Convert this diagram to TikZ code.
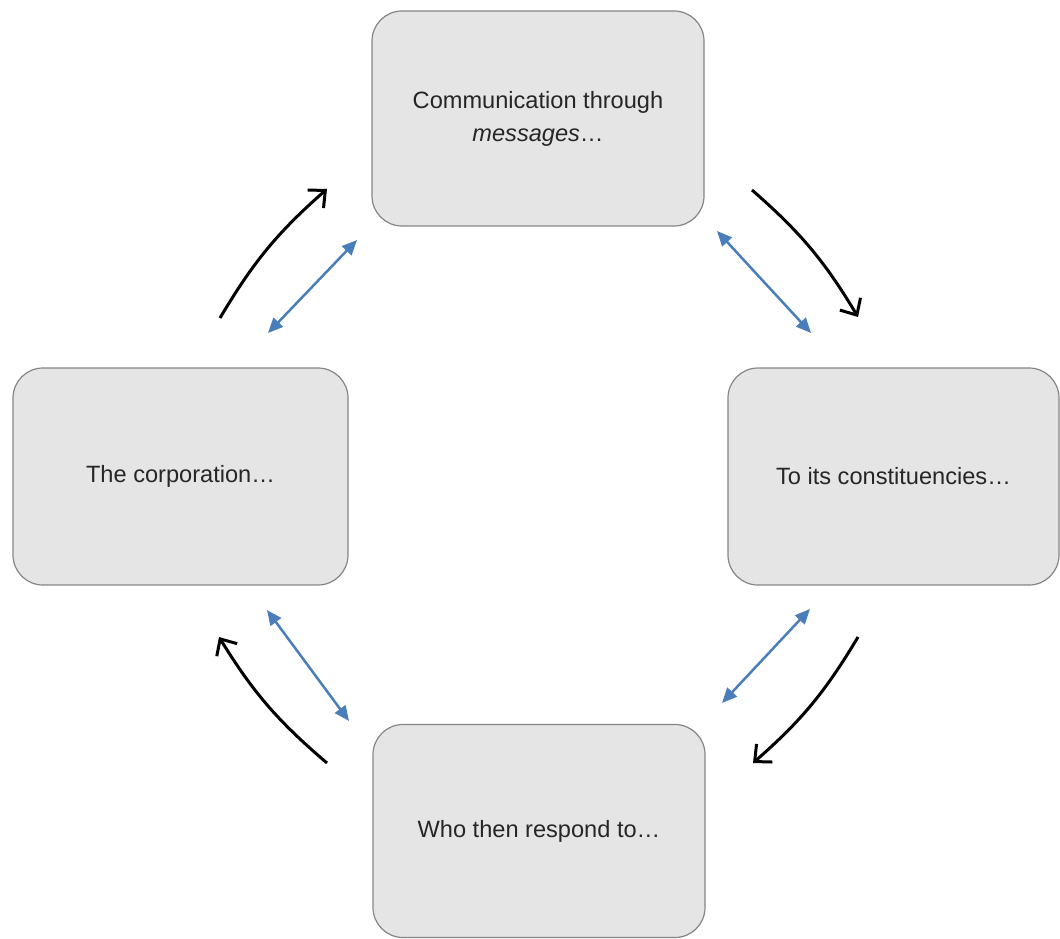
\documentclass[tikz,border=0pt]{standalone}
\usepackage{fontspec}
\setmainfont{Liberation Sans}
\usetikzlibrary{arrows.meta}
\definecolor{boxfill}{HTML}{E5E5E5}
\definecolor{boxline}{HTML}{858585}
\definecolor{txt}{HTML}{262626}
\definecolor{linkblue}{HTML}{4A7EBB}
\begin{document}
\begin{tikzpicture}[x=1pt,y=-1pt,
  stage/.style={draw=boxline, fill=boxfill, line width=1.2pt, rounded corners=30pt,
    inner sep=0pt, align=center, text=txt,
    font=\fontsize{23.6}{33}\selectfont},
  cycle/.style={draw=black, line width=3pt,
    -{Straight Barb[length=13pt,width=24pt,line width=3pt]}, bend left=9},
  link/.style={draw=linkblue, line width=2.5pt,
    {Triangle[length=15pt,width=13pt]}-{Triangle[length=15pt,width=13pt]}}]
\useasboundingbox (0,0) rectangle (1060,939);

% the four stages of the cycle
\node[stage, minimum width=332pt, minimum height=215pt] (msg) at (538,118.5)
  {Communication through\\\textit{messages}\ldots};
\node[stage, minimum width=335pt, minimum height=217pt] (corp) at (180.5,476.5)
  {The corporation\ldots};
\node[stage, minimum width=331pt, minimum height=217pt] (const) at (893.5,476.5)
  {To its constituencies\ldots};
\node[stage, minimum width=332pt, minimum height=213pt] (resp) at (539,831)
  {Who then respond to\ldots};

% end points of the curved cycle arrows
\coordinate (c1s) at (220,318);  \coordinate (c1e) at (327,189);
\coordinate (c2s) at (752,190);  \coordinate (c2e) at (858,317);
\coordinate (c3s) at (858,637);  \coordinate (c3e) at (753,763);
\coordinate (c4s) at (327,763);  \coordinate (c4e) at (219,637);

\draw[cycle] (c1s) to (c1e);
\draw[cycle] (c2s) to (c2e);
\draw[cycle] (c3s) to (c3e);
\draw[cycle] (c4s) to (c4e);

% end points of the two-way links
\coordinate (l1a) at (268,333);  \coordinate (l1b) at (357,240);
\coordinate (l2a) at (717,231);  \coordinate (l2b) at (811,333);
\coordinate (l3a) at (810,609);  \coordinate (l3b) at (722,703);
\coordinate (l4a) at (267,610);  \coordinate (l4b) at (349,721);

\draw[link] (l1a) -- (l1b);
\draw[link] (l2a) -- (l2b);
\draw[link] (l3a) -- (l3b);
\draw[link] (l4a) -- (l4b);
\end{tikzpicture}
\end{document}
